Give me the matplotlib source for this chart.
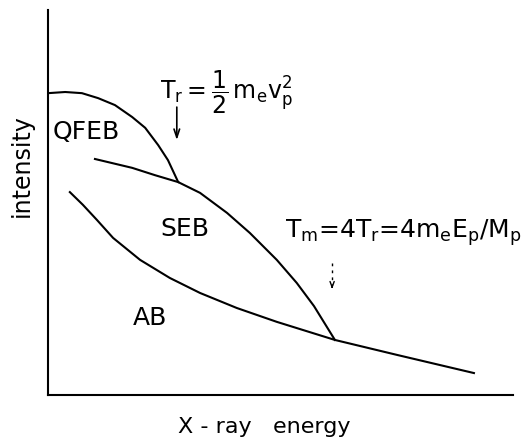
import numpy as np
import matplotlib.pyplot as plt

plt.rcParams['mathtext.default'] = 'regular'

# curves (x: X-ray energy, y: intensity, arbitrary units 0-10)
qfeb_x = [0, 0.37, 0.73, 1.08, 1.44, 1.81, 2.09, 2.37, 2.58, 2.80,
          3.27, 3.85, 4.34, 4.92, 5.35, 5.72, 6.17]
qfeb_y = [7.84, 7.87, 7.84, 7.71, 7.53, 7.22, 6.94, 6.49, 6.10, 5.53,
          5.25, 4.73, 4.21, 3.51, 2.91, 2.31, 1.43]

seb_x = [1.01, 1.81, 2.30, 2.80]
seb_y = [6.13, 5.90, 5.71, 5.53]

ab_x = [0.47, 0.75, 1.05, 1.40, 1.98, 2.62, 3.27, 4.06, 4.92, 6.17, 7.51, 9.16]
ab_y = [5.27, 4.94, 4.55, 4.08, 3.51, 3.04, 2.65, 2.26, 1.90, 1.43, 1.04, 0.57]

fig = plt.figure(figsize=(5.28, 4.46), dpi=100)
ax = fig.add_axes([48/528, 51/446, 465/528, 385/446])

for xs, ys in [(qfeb_x, qfeb_y), (seb_x, seb_y), (ab_x, ab_y)]:
    ax.plot(xs, ys, color='black', lw=1.5, solid_joinstyle='round')

ax.set_xlim(0, 10)
ax.set_ylim(0, 10)
ax.spines['top'].set_visible(False)
ax.spines['right'].set_visible(False)
ax.spines['left'].set_linewidth(1.5)
ax.spines['bottom'].set_linewidth(1.5)
ax.set_xticks([])
ax.set_yticks([])

ax.set_xlabel('X - ray   energy', fontsize=16)
ax.xaxis.set_label_coords(0.4645, -0.056)
ax.set_ylabel('intensity', fontsize=17)
ax.yaxis.set_label_coords(-0.03, 0.595)

ax.text(0.1, 6.83, 'QFEB', fontsize=18, ha='left', va='center')
ax.text(2.95, 4.31, 'SEB', fontsize=18, ha='center', va='center')
ax.text(2.19, 2.0, 'AB', fontsize=18, ha='center', va='center')

ax.text(2.41, 7.87, r'$T_r = \dfrac{1}{2}\,m_e v_p^2$', fontsize=17, ha='left', va='center')
ax.annotate('', xy=(2.77, 6.55), xytext=(2.77, 7.55),
            arrowprops=dict(arrowstyle='->,head_length=0.6,head_width=0.2', color='black', lw=1.2))

ax.text(5.1, 4.21, r'$T_m$=4$T_r$=4$m_eE_p$/$M_p$', fontsize=18, ha='left', va='center')
ax.plot([6.11, 6.11], [3.43, 2.85], color='black', lw=1, linestyle=(0, (2, 3)))
ax.annotate('', xy=(6.11, 2.68), xytext=(6.11, 2.9),
            arrowprops=dict(arrowstyle='->,head_length=0.4,head_width=0.15', color='black', lw=1))

fig.savefig('out.png', dpi=100)
